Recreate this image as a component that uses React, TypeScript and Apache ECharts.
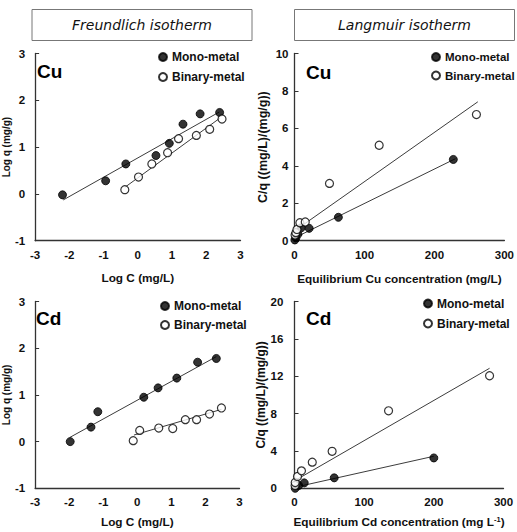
import { useEffect, useRef } from "react";
import * as echarts from "echarts";

// Freundlich isotherm, Cu: log C (mg/L) vs log q (mg/g)
const cuFreundMonoX = [-2.2, -0.94, -0.35, 0.53, 0.92, 1.32, 1.82, 2.39];
const cuFreundMonoY = [-0.02, 0.28, 0.64, 0.82, 1.08, 1.49, 1.71, 1.74];
const cuFreundBinX = [-0.38, 0.02, 0.41, 0.87, 1.19, 1.71, 2.1, 2.46];
const cuFreundBinY = [0.09, 0.36, 0.64, 0.88, 1.18, 1.25, 1.38, 1.6];
const cuFreundMonoFit = [[-2.18, -0.13], [2.38, 1.75]];
const cuFreundBinFit = [[-0.38, 0.14], [2.4, 1.62]];

// Freundlich isotherm, Cd
const cdFreundMonoX = [-1.97, -1.36, -1.16, 0.19, 0.61, 1.16, 1.77, 2.32];
const cdFreundMonoY = [0.0, 0.31, 0.64, 0.95, 1.15, 1.36, 1.7, 1.78];
const cdFreundBinX = [-0.12, 0.07, 0.63, 1.04, 1.41, 1.74, 2.12, 2.47];
const cdFreundBinY = [0.02, 0.24, 0.29, 0.28, 0.47, 0.47, 0.59, 0.72];
const cdFreundMonoFit = [[-1.98, 0.09], [2.32, 1.82]];
const cdFreundBinFit = [[-0.1, 0.14], [2.47, 0.69]];

// Langmuir isotherm, Cu: C (mg/L) vs C/q
const cuLangMonoX = [0.5, 2, 5, 9.6, 21, 62.7, 227];
const cuLangMonoY = [0.04, 0.15, 0.35, 0.69, 0.66, 1.25, 4.34];
const cuLangBinX = [0.8, 2, 3.5, 7.7, 15.4, 50, 121, 260];
const cuLangBinY = [0.3, 0.43, 0.6, 0.96, 1.0, 3.06, 5.1, 6.74];
const cuLangMonoFit = [[0, 0.15], [230, 4.38]];
const cuLangBinFit = [[3, 0.6], [262, 7.42]];

// Langmuir isotherm, Cd
const cdLangMonoX = [1, 6, 14, 57, 200];
const cdLangMonoY = [0.0, 0.3, 0.58, 1.12, 3.25];
const cdLangBinX = [0.8, 1, 4.3, 10, 25.5, 54, 135, 280];
const cdLangBinY = [0.3, 0.62, 1.27, 1.87, 2.8, 3.96, 8.3, 12.05];
const cdLangMonoFit = [[0, 0.1], [200, 3.43]];
const cdLangBinFit = [[0, 0.8], [280, 12.85]];

const legendNames = ["Mono-metal", "Binary-metal"];
const FONT = '"Liberation Sans", Arial, sans-serif';
const INK = "#111";
const AXIS = "#333";

const zip = (xs: number[], ys: number[]) => xs.map((x, i) => [x, ys[i]]);

function xAxisOf(grid: number, min: number, max: number, interval: number, name: string, nameGap: number) {
  return {
    gridIndex: grid,
    type: "value",
    min,
    max,
    interval,
    name,
    nameLocation: "middle",
    nameGap,
    nameTextStyle: { fontFamily: FONT, fontWeight: "bold", fontSize: 11.8, color: INK },
    axisLine: { show: true, onZero: false, lineStyle: { color: AXIS, width: 1.3 } },
    axisTick: { show: false },
    axisLabel: { fontFamily: FONT, fontWeight: "bold", fontSize: 11.5, color: INK, margin: 8 },
    splitLine: { show: false },
  };
}

function yAxisOf(grid: number, min: number, max: number, interval: number, name: string, nameGap: number, nameSize: number, labelOpts: any) {
  return {
    gridIndex: grid,
    type: "value",
    min,
    max,
    interval,
    name,
    nameLocation: "middle",
    nameRotate: 90,
    nameGap,
    nameTextStyle: { fontFamily: FONT, fontWeight: "bold", fontSize: nameSize, color: INK },
    axisLine: { show: true, onZero: false, lineStyle: { color: AXIS, width: 1.3 } },
    axisTick: { show: true, inside: true, length: 4, lineStyle: { color: AXIS, width: 1 } },
    axisLabel: { fontFamily: FONT, fontWeight: "bold", fontSize: 11.5, color: INK, ...labelOpts },
    splitLine: { show: false },
  };
}

function panelSeries(idx: number, monoX: number[], monoY: number[], binX: number[], binY: number[], monoFit: number[][], binFit: number[][]) {
  const fitStyle = { color: "#3c3c3c", width: 1 };
  return [
    {
      name: "Mono-metal fit",
      type: "line",
      xAxisIndex: idx,
      yAxisIndex: idx,
      data: monoFit,
      showSymbol: false,
      silent: true,
      lineStyle: fitStyle,
      z: 1,
    },
    {
      name: "Binary-metal fit",
      type: "line",
      xAxisIndex: idx,
      yAxisIndex: idx,
      data: binFit,
      showSymbol: false,
      silent: true,
      lineStyle: fitStyle,
      z: 1,
    },
    {
      name: "Mono-metal",
      type: "scatter",
      xAxisIndex: idx,
      yAxisIndex: idx,
      data: zip(monoX, monoY),
      symbol: "circle",
      symbolSize: 8,
      itemStyle: { color: "#000", borderColor: "#000", borderWidth: 1 },
      z: 3,
    },
    {
      name: "Binary-metal",
      type: "scatter",
      xAxisIndex: idx,
      yAxisIndex: idx,
      data: zip(binX, binY),
      symbol: "circle",
      symbolSize: 8,
      itemStyle: { color: "#fff", borderColor: "#000", borderWidth: 1.2 },
      z: 3,
    },
  ];
}

function legendAt(left: number, top: number, gap: number, size = 12) {
  return {
    data: legendNames,
    orient: "vertical",
    left,
    top,
    padding: 0,
    icon: "circle",
    itemWidth: 8,
    itemHeight: 8,
    itemGap: gap,
    selectedMode: false,
    textStyle: { fontFamily: FONT, fontWeight: "bold", fontSize: size, color: INK },
  };
}

function header(x: number, y: number, w: number, h: number, text: string) {
  return [
    {
      type: "rect",
      shape: { x, y, width: w, height: h },
      style: { fill: "#fff", stroke: "#777", lineWidth: 1 },
    },
    {
      type: "text",
      x: x + w / 2,
      y: y + h / 2,
      style: {
        text,
        fontFamily: '"DejaVu Sans", Verdana, sans-serif',
        fontStyle: "italic",
        fontSize: 14,
        fill: "#111",
        align: "center",
        verticalAlign: "middle",
      },
    },
  ];
}

function metalTag(x: number, y: number, text: string) {
  return {
    type: "text",
    x,
    y,
    style: {
      text,
      fontFamily: FONT,
      fontWeight: "bold",
      fontSize: 19,
      fill: "#000",
      align: "left",
      verticalAlign: "middle",
    },
  };
}

export default function App() {
  const ref = useRef<HTMLDivElement>(null);

  useEffect(() => {
    if (!ref.current) return;
    const chart = echarts.init(ref.current, null, { renderer: "svg" });

    chart.setOption({
      animation: false,
      backgroundColor: "#fff",
      grid: [
        { left: 32, top: 53.5, width: 208.5, height: 187.2 },
        { left: 294.5, top: 53.5, width: 210, height: 187.2 },
        { left: 32, top: 301.5, width: 207.5, height: 186.8 },
        { left: 294.5, top: 301.5, width: 209, height: 186.8 },
      ],
      xAxis: [
        xAxisOf(0, -3, 3, 1, "Log C (mg/L)", 31),
        xAxisOf(1, 0, 300, 100, "Equilibrium Cu concentration (mg/L)", 32),
        xAxisOf(2, -3, 3, 1, "Log C (mg/L)", 27.5),
        {
          ...xAxisOf(3, 0, 300, 100, "Equilibrium Cd concentration (mg L{sup|-1})", 27.5),
          nameTextStyle: {
            fontFamily: FONT,
            fontWeight: "bold",
            fontSize: 11.8,
            color: INK,
            rich: {
              sup: { fontFamily: FONT, fontWeight: "bold", fontSize: 7.5, color: INK, verticalAlign: "top" },
            },
          },
        },
      ],
      yAxis: [
        yAxisOf(0, -1, 3, 1, "Log q (mg/g)", 20, 10, { margin: 10 }),
        yAxisOf(1, 0, 10, 2, "C/q ((mg/L)/(mg/g))", 25, 12.5, { margin: 6 }),
        yAxisOf(2, -1, 3, 1, "Log q (mg/g)", 20, 10, { margin: 10 }),
        yAxisOf(3, 0, 20, 4, "C/q ((mg/L)/(mg/g))", 23, 12, { margin: 24, align: "left" }),
      ],
      legend: [
        legendAt(158, 51, 8),
        legendAt(431, 51, 6.5, 11.5),
        legendAt(160, 300, 7),
        legendAt(423, 297.5, 8),
      ],
      graphic: [
        ...header(32, 9.5, 220, 31, "Freundlich isotherm"),
        ...header(294.5, 9.5, 220, 31, "Langmuir isotherm"),
        metalTag(37, 71, "Cu"),
        metalTag(306, 72, "Cu"),
        metalTag(36, 318, "Cd"),
        metalTag(306, 318, "Cd"),
      ],
      series: [
        ...panelSeries(0, cuFreundMonoX, cuFreundMonoY, cuFreundBinX, cuFreundBinY, cuFreundMonoFit, cuFreundBinFit),
        ...panelSeries(1, cuLangMonoX, cuLangMonoY, cuLangBinX, cuLangBinY, cuLangMonoFit, cuLangBinFit),
        ...panelSeries(2, cdFreundMonoX, cdFreundMonoY, cdFreundBinX, cdFreundBinY, cdFreundMonoFit, cdFreundBinFit),
        ...panelSeries(3, cdLangMonoX, cdLangMonoY, cdLangBinX, cdLangBinY, cdLangMonoFit, cdLangBinFit),
      ],
    });

    return () => chart.dispose();
  }, []);

  return (
    <div
      ref={ref}
      style={{ position: "absolute", left: 0, top: 0, width: 517, height: 532, background: "#fff" }}
    />
  );
}
